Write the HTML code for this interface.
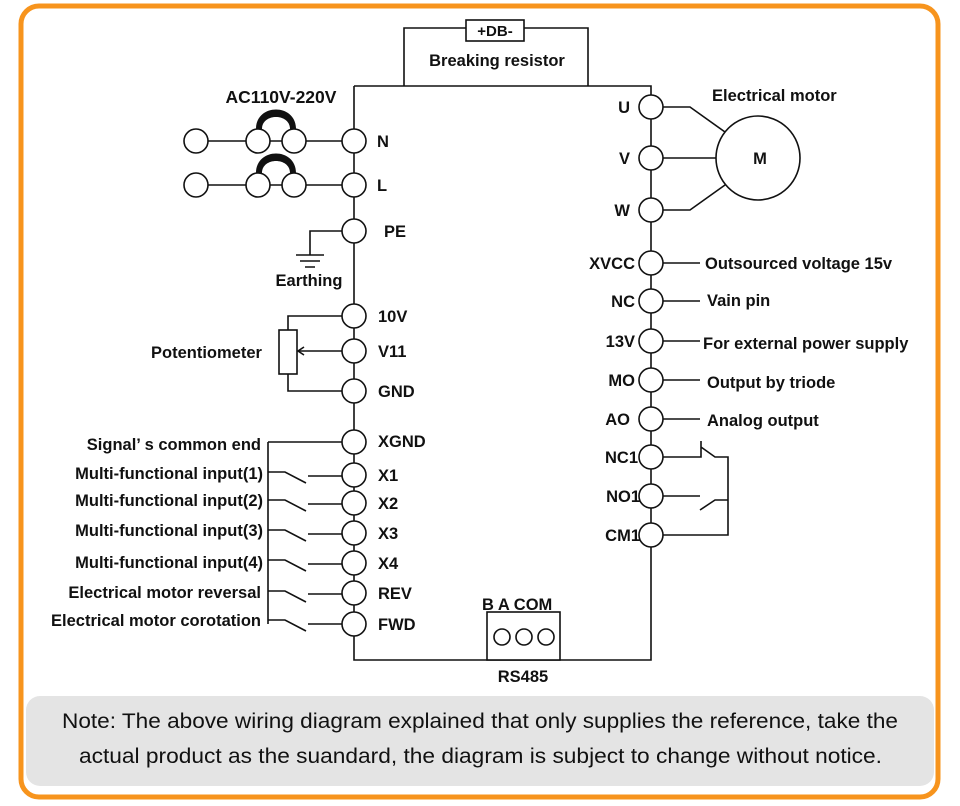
<!DOCTYPE html>
<html><head><meta charset="utf-8"><style>
body{margin:0;background:#fff}
svg{display:block}
text{font-family:"Liberation Sans","Noto Sans CJK SC",sans-serif;font-weight:bold;font-size:16.5px;fill:#111}
text.note{font-weight:normal;font-size:21px}
</style></head><body>
<svg width="960" height="806" viewBox="0 0 960 806" xmlns="http://www.w3.org/2000/svg">
<rect x="21" y="6" width="917" height="791" rx="18" fill="#fff" stroke="#f7941d" stroke-width="5"/>
<rect x="26" y="696" width="908" height="90" rx="14" fill="#e4e4e4"/>
<g stroke="#111" stroke-width="1.6" fill="none">
<path d="M354 86V660H651V86H354"/>
<path d="M404 86V28H588V86"/>
<rect x="466" y="20" width="58" height="21" fill="#fff"/>
<rect x="487" y="612" width="73" height="48" fill="#fff"/>
<path d="M196 141H342M196 185H342"/>
<path d="M354 231H310V255M296 255H324M300 261H320M305 267H315"/>
<path d="M342 316H288V330M288 374V391H342M342 351H298"/>
<path d="M304 347L298 351L304 355"/>
<rect x="279" y="330" width="18" height="44" fill="#fff"/>
<path d="M268 442H342M268 442V624"/>
<path d="M268 472H285L306 483M308 476H342"/>
<path d="M268 500H285L306 511M308 504H342"/>
<path d="M268 530H285L306 541M308 534H342"/>
<path d="M268 560H285L306 571M308 564H342"/>
<path d="M268 591H285L306 602M308 594H342"/>
<path d="M268 620H285L306 631M308 624H342"/>
<path d="M663 107H690L725 132M663 158H716M663 210H690L725 185"/>
<circle cx="758" cy="158" r="42" fill="#fff"/>
<path d="M663 263H700M663 301H700M663 341H700M663 380H700M663 419H700"/>
<path d="M663 457H701V441M701 447L715 457H728V535H663M663 496H700M700 510L715 500H728"/>
</g>
<g stroke="#111" stroke-width="1.6" fill="#fff">
<circle cx="196" cy="141" r="12"/><circle cx="258" cy="141" r="12"/><circle cx="294" cy="141" r="12"/>
<circle cx="196" cy="185" r="12"/><circle cx="258" cy="185" r="12"/><circle cx="294" cy="185" r="12"/>
<circle cx="354" cy="141" r="12"/><circle cx="354" cy="185" r="12"/><circle cx="354" cy="231" r="12"/>
<circle cx="354" cy="316" r="12"/><circle cx="354" cy="351" r="12"/><circle cx="354" cy="391" r="12"/>
<circle cx="354" cy="442" r="12"/><circle cx="354" cy="475" r="12"/><circle cx="354" cy="503" r="12"/>
<circle cx="354" cy="533" r="12"/><circle cx="354" cy="563" r="12"/><circle cx="354" cy="593" r="12"/><circle cx="354" cy="624" r="12"/>
<circle cx="651" cy="107" r="12"/><circle cx="651" cy="158" r="12"/><circle cx="651" cy="210" r="12"/>
<circle cx="651" cy="263" r="12"/><circle cx="651" cy="301" r="12"/><circle cx="651" cy="341" r="12"/>
<circle cx="651" cy="380" r="12"/><circle cx="651" cy="419" r="12"/><circle cx="651" cy="457" r="12"/>
<circle cx="651" cy="496" r="12"/><circle cx="651" cy="535" r="12"/>
<circle cx="502" cy="637" r="8"/><circle cx="524" cy="637" r="8"/><circle cx="546" cy="637" r="8"/>
</g>
<path d="M256 129C256 103 296 103 296 129L290 129C290 113 262 113 262 129Z" fill="#111"/>
<path d="M256 173C256 147 296 147 296 173L290 173C290 157 262 157 262 173Z" fill="#111"/>
<text x="495" y="36" text-anchor="middle" style="font-size:15px">+DB-</text>
<text x="497" y="66" text-anchor="middle">Breaking resistor</text>
<text x="281" y="103" text-anchor="middle" style="font-size:17.5px">AC110V-220V</text>
<text x="377" y="147">N</text><text x="377" y="191">L</text><text x="384" y="237">PE</text>
<text x="309" y="286" text-anchor="middle">Earthing</text>
<text x="378" y="322">10V</text><text x="378" y="357">V11</text><text x="378" y="397">GND</text>
<text x="151" y="358">Potentiometer</text>
<text x="378" y="447">XGND</text><text x="378" y="481">X1</text><text x="378" y="509">X2</text>
<text x="378" y="539">X3</text><text x="378" y="569">X4</text><text x="378" y="599">REV</text><text x="378" y="630">FWD</text>
<g text-anchor="end">
<text x="261" y="450">Signal’ s common end</text>
<text x="263" y="479">Multi-functional input(1)</text>
<text x="263" y="506">Multi-functional input(2)</text>
<text x="263" y="536">Multi-functional input(3)</text>
<text x="263" y="568">Multi-functional input(4)</text>
<text x="261" y="598">Electrical motor reversal</text>
<text x="261" y="626">Electrical motor corotation</text>
<text x="630" y="113">U</text><text x="630" y="164">V</text><text x="630" y="216">W</text>
<text x="635" y="269">XVCC</text><text x="635" y="307">NC</text><text x="635" y="347">13V</text>
<text x="635" y="386">MO</text><text x="630" y="425">AO</text><text x="638" y="463">NC1</text>
<text x="640" y="502">NO1</text><text x="640" y="541">CM1</text>
</g>
<text x="712" y="101">Electrical motor</text>
<text x="760" y="164" text-anchor="middle">M</text>
<text x="705" y="269">Outsourced voltage 15v</text>
<text x="707" y="306">Vain pin</text>
<text x="703" y="349">For external power supply</text>
<text x="707" y="388">Output by triode</text>
<text x="707" y="426">Analog output</text>
<text x="482" y="610">B  A  COM</text>
<text x="523" y="682" text-anchor="middle">RS485</text>
<text class="note" x="62" y="728" textLength="836" lengthAdjust="spacingAndGlyphs">Note: The above wiring diagram explained that only supplies the reference, take the</text>
<text class="note" x="79" y="763" textLength="803" lengthAdjust="spacingAndGlyphs">actual product as the suandard, the diagram is subject to change without notice.</text>
</svg>
</body></html>
